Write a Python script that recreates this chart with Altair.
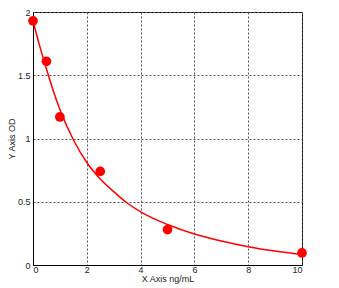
import altair as alt
import pandas as pd

# measured standards
pt_x = [0, 0.5, 1, 2.5, 5, 10]
pt_y = [1.93, 1.61, 1.17, 0.74, 0.28, 0.095]

# fitted curve
cv_x = [0, 0.25, 0.5, 0.75, 1, 1.5, 2, 2.5, 3, 3.5, 4, 5, 6, 7, 8, 9, 10]
cv_y = [1.93, 1.73, 1.55, 1.38, 1.23, 0.99, 0.81, 0.68, 0.58, 0.49, 0.42, 0.32, 0.245, 0.19, 0.145, 0.11, 0.082]

x_ticks = [0, 2, 4, 6, 8, 10]
y_ticks = [0, 0.5, 1, 1.5, 2]

pts = pd.DataFrame({"x": pt_x, "y": pt_y})
cv = pd.DataFrame({"x": cv_x, "y": cv_y})

xs = alt.Scale(domain=[0, 10], nice=False, zero=False)
ys = alt.Scale(domain=[0, 2], nice=False, zero=False)

xaxis = alt.Axis(title="X Axis ng/mL", values=x_ticks, format="d", grid=True, gridDash=[2, 2],
                 gridColor="#555", gridOpacity=1, domainColor="black", tickSize=0,
                 labelPadding=0, labelFont="Liberation Sans", labelFontSize=9,
                 labelColor="#222", titleFont="Liberation Sans", titleFontSize=9,
                 titleFontWeight="normal", titleColor="#222", titlePadding=0)
yaxis = alt.Axis(title="Y Axis OD", values=y_ticks, format="~g", grid=True, gridDash=[2, 2],
                 gridColor="#555", gridOpacity=1, domainColor="black", tickSize=0,
                 labelPadding=3, labelFont="Liberation Sans", labelFontSize=9,
                 labelColor="#222", titleFont="Liberation Sans", titleFontSize=9,
                 titleFontWeight="normal", titleColor="#222", titlePadding=1)

line = alt.Chart(cv).mark_line(color="#FF0000", strokeWidth=1.5, interpolate="monotone").encode(
    x=alt.X("x:Q", scale=xs, axis=xaxis),
    y=alt.Y("y:Q", scale=ys, axis=yaxis),
)
dots = alt.Chart(pts).mark_circle(color="#FF0000", size=95, opacity=1).encode(
    x=alt.X("x:Q", scale=xs),
    y=alt.Y("y:Q", scale=ys),
)

chart = (line + dots).properties(
    width=269, height=253,
    autosize=alt.AutoSizeParams(type="none"),
    padding={"left": 33, "top": 12, "right": 37, "bottom": 23},
    background="white",
).configure_view(stroke="black", strokeWidth=1)

chart.save("out.html", embed_options={"renderer": "svg", "actions": False})
